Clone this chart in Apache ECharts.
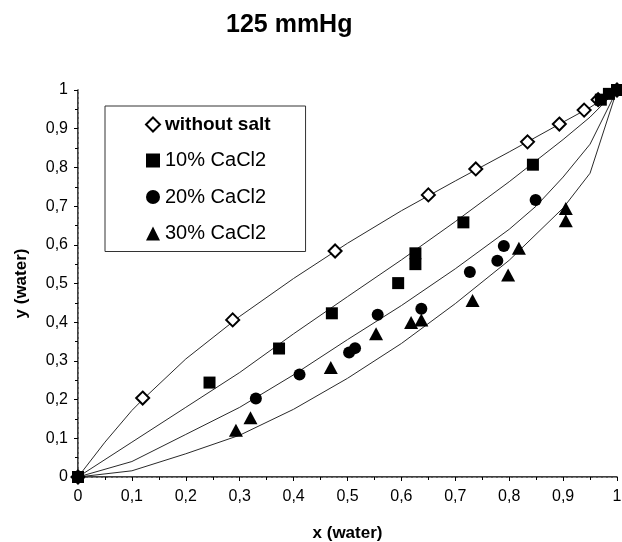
<!DOCTYPE html>
<html><head><meta charset="utf-8">
<script src="https://cdn.jsdelivr.net/npm/echarts@6/dist/echarts.min.js"></script>
<style>html,body{margin:0;padding:0;background:#fff}#c{width:622px;height:542px}</style>
</head><body><div id="c"></div>
<script>
// Measured points
const noSaltX = [0, 0.12, 0.287, 0.477, 0.65, 0.738, 0.834, 0.893, 0.939, 0.965, 1];
const noSaltY = [0, 0.204, 0.406, 0.584, 0.729, 0.796, 0.866, 0.912, 0.948, 0.975, 1];
const ca10X = [0, 0.244, 0.373, 0.471, 0.594, 0.626, 0.626, 0.715, 0.844, 0.97, 0.985, 1];
const ca10Y = [0, 0.244, 0.332, 0.423, 0.501, 0.578, 0.55, 0.658, 0.807, 0.975, 0.99, 1];
const ca20X = [0.33, 0.411, 0.503, 0.514, 0.556, 0.637, 0.727, 0.778, 0.79, 0.849, 1];
const ca20Y = [0.203, 0.265, 0.322, 0.333, 0.419, 0.435, 0.53, 0.559, 0.597, 0.716, 1];
const ca30X = [0.293, 0.32, 0.469, 0.553, 0.618, 0.637, 0.732, 0.798, 0.818, 0.905, 0.905];
const ca30Y = [0.121, 0.153, 0.283, 0.37, 0.399, 0.406, 0.456, 0.522, 0.591, 0.694, 0.662];
// Model curves
const fitX1 = [0, 0.05, 0.1, 0.12, 0.2, 0.3, 0.4, 0.5, 0.6, 0.7, 0.8, 0.9, 0.95, 1];
const fitY1 = [0, 0.09, 0.172, 0.2, 0.305, 0.415, 0.513, 0.604, 0.688, 0.765, 0.84, 0.917, 0.955, 1];
const fitX2 = [0, 0.1, 0.2, 0.3, 0.4, 0.5, 0.6, 0.7, 0.8, 0.9, 0.95, 1];
const fitY2 = [0, 0.09, 0.18, 0.27, 0.37, 0.466, 0.561, 0.66, 0.763, 0.872, 0.93, 1];
const fitX3 = [0, 0.1, 0.2, 0.3, 0.4, 0.5, 0.6, 0.7, 0.8, 0.85, 0.9, 0.95, 1];
const fitY3 = [0, 0.04, 0.11, 0.18, 0.264, 0.355, 0.443, 0.538, 0.64, 0.70, 0.775, 0.86, 1];
const fitX4 = [0, 0.1, 0.2, 0.3, 0.4, 0.5, 0.6, 0.7, 0.8, 0.9, 0.95, 1];
const fitY4 = [0, 0.016, 0.06, 0.108, 0.175, 0.255, 0.345, 0.448, 0.56, 0.695, 0.785, 1];
const names = ['without salt', '10% CaCl2', '20% CaCl2', '30% CaCl2'];

const zip = (a, b) => a.map((v, i) => [v, b[i]]);
const F = 'Liberation Sans, Arial, sans-serif';
const fmt = v => (v === 0 ? '0' : v === 1 ? '1' : v.toFixed(1).replace('.', ','));

const lineS = (x, y) => ({ type: 'line', data: zip(x, y), showSymbol: false, symbol: 'none', silent: true,
  lineStyle: { color: '#2a2a2a', width: 1 }, z: 1, animation: false });

const chart = echarts.init(document.getElementById('c'), null, { renderer: 'canvas' });
chart.setOption({
  animation: false,
  title: { text: '125 mmHg', left: 221, top: 8, textStyle: { fontFamily: F, fontSize: 25, fontWeight: 'bold', color: '#000' } },
  grid: { left: 78, right: 5, top: 90, bottom: 65, containLabel: false, outerBoundsMode: 'none' },
  legend: {
    left: 105, top: 106, orient: 'vertical', padding: [9, 35, 8, 40], itemGap: 16.5,
    itemWidth: 14, itemHeight: 14, borderColor: '#333', borderWidth: 1,
    data: names,
    formatter: n => n === 'without salt' ? '{b|' + n + '}' : n,
    textStyle: { fontFamily: F, fontSize: 20, color: '#000', rich: { b: { fontFamily: F, fontSize: 19, fontWeight: 'bold', color: '#000' } } }
  },
  xAxis: [{
    type: 'value', min: 0, max: 1, interval: 0.1,
    name: 'x (water)', nameLocation: 'middle', nameGap: 48,
    nameTextStyle: { fontFamily: F, fontSize: 17, fontWeight: 'bold', color: '#000' },
    axisLine: { lineStyle: { color: '#000', width: 1.5 } },
    axisTick: { length: 4, lineStyle: { color: '#000' } },
    minorTick: { show: true, splitNumber: 2, length: 3, lineStyle: { color: '#000' } },
    splitLine: { show: false },
    axisLabel: { formatter: fmt, fontFamily: F, fontSize: 16, color: '#000', margin: 12 }
  }, {
    type: 'value', min: 0, max: 1, position: 'top',
    axisLine: { show: true, lineStyle: { color: '#888', width: 1, type: [3, 2] } },
    axisTick: { show: false }, axisLabel: { show: false }, splitLine: { show: false }
  }],
  yAxis: [{
    type: 'value', min: 0, max: 1, interval: 0.1,
    name: 'y (water)', nameLocation: 'middle', nameGap: 48,
    nameTextStyle: { fontFamily: F, fontSize: 17, fontWeight: 'bold', color: '#000' },
    axisLine: { show: true, lineStyle: { color: '#000', width: 1.5 } },
    axisTick: { show: true, length: 4, lineStyle: { color: '#000' } },
    minorTick: { show: true, splitNumber: 2, length: 3, lineStyle: { color: '#000' } },
    splitLine: { show: false },
    axisLabel: { formatter: fmt, fontFamily: F, fontSize: 16, color: '#000', margin: 10 }
  }, {
    type: 'value', min: 0, max: 1, position: 'right',
    axisLine: { show: true, lineStyle: { color: '#888', width: 1, type: [3, 2] } },
    axisTick: { show: false }, axisLabel: { show: false }, splitLine: { show: false }
  }],
  series: [
    lineS(fitX1, fitY1), lineS(fitX2, fitY2), lineS(fitX3, fitY3), lineS(fitX4, fitY4),
    { name: names[0], type: 'scatter', data: zip(noSaltX, noSaltY), symbol: 'diamond', symbolSize: 13,
      itemStyle: { color: '#fff', borderColor: '#000', borderWidth: 2, opacity: 1 }, z: 3 },
    { name: names[1], type: 'scatter', data: zip(ca10X, ca10Y), symbol: 'rect', symbolSize: 12,
      itemStyle: { color: '#000', opacity: 1 }, z: 4 },
    { name: names[2], type: 'scatter', data: zip(ca20X, ca20Y), symbol: 'circle', symbolSize: 12,
      itemStyle: { color: '#000', opacity: 1 }, z: 3 },
    { name: names[3], type: 'scatter', data: zip(ca30X, ca30Y), symbol: 'triangle', symbolSize: [14, 13],
      itemStyle: { color: '#000', opacity: 1 }, z: 3 }
  ]
});
</script></body></html>
